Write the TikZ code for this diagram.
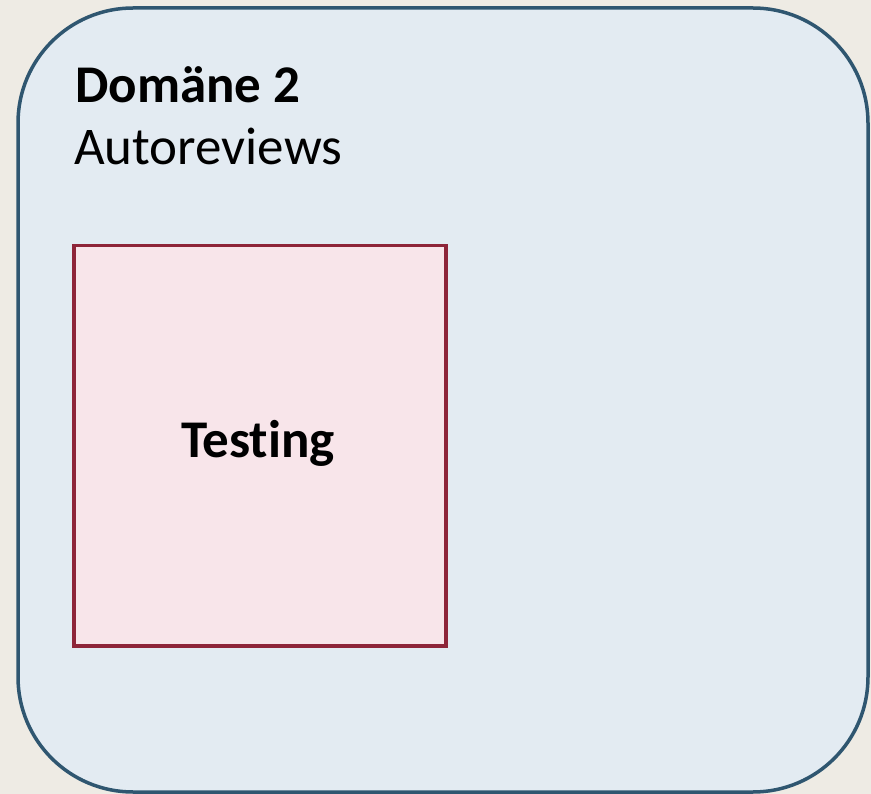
\documentclass[tikz,border=0pt]{standalone}
\usepackage{fontspec}
\setmainfont{Carlito}[Ligatures=NoCommon]
\definecolor{pagebg}{HTML}{EEEBE4}
\definecolor{domfill}{HTML}{E3EBF2}
\definecolor{domline}{HTML}{2F5670}
\definecolor{taskfill}{HTML}{F8E5EA}
\definecolor{taskline}{HTML}{8E2539}
\tikzset{
  domainbox/.style={draw=domline, fill=domfill, line width=3.5pt, rounded corners=115pt},
  taskbox/.style={draw=taskline, fill=taskfill, line width=3.5pt},
  bigtext/.style={font=\fontsize{53}{60}\selectfont, inner sep=0pt, anchor=base west},
}
\begin{document}
\begin{tikzpicture}[x=1pt, y=-1pt]
  \useasboundingbox (0,0) rectangle (871,794);
  \fill[pagebg] (0,0) rectangle (871,794);
  \path[domainbox] (18,8) rectangle (868,792);
  \node[bigtext, font=\fontsize{53}{60}\selectfont\bfseries] (title) at (75,103) {Domäne 2};
  \node[bigtext] (subtitle) at (74,165) {Autoreviews};
  \node[taskbox, minimum width=372pt, minimum height=400pt, anchor=north west,
        inner sep=0pt] (testing) at (72,244) {};
  \node[font=\fontsize{53}{60}\selectfont\bfseries, inner sep=0pt, anchor=base]
       (testlabel) at (258,458) {Testing};
\end{tikzpicture}
\end{document}
